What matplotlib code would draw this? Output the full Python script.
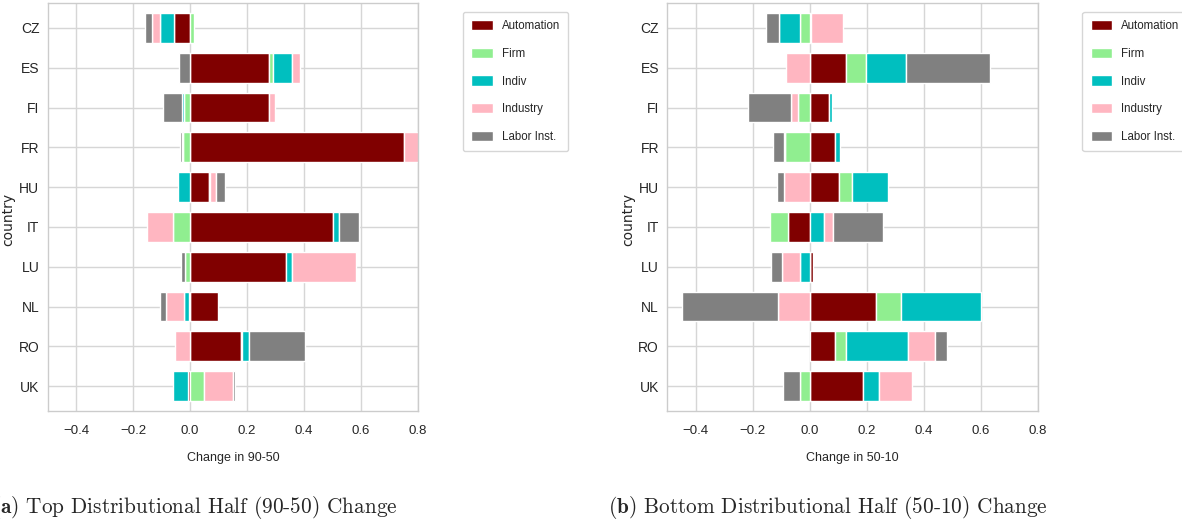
import numpy as np
import pandas as pd
import matplotlib
matplotlib.use("Agg")
import matplotlib.pyplot as plt
import seaborn as sns

countries = ["CZ", "ES", "FI", "FR", "HU", "IT", "LU", "NL", "RO", "UK"]
factors = ["Automation", "Firm", "Indiv", "Industry", "Labor Inst."]
colors = ["#800000", "#90EE90", "#00BFBF", "#FFB6C1", "#808080"]

# change in 90-50 (top half)
top_automation = [-0.057, 0.278, 0.277, 0.752, 0.066, 0.503, 0.338, 0.098, 0.178, -0.007]
top_firm = [0.012, 0.012, -0.020, -0.024, 0.004, -0.061, -0.019, -0.003, 0.005, 0.047]
top_indiv = [-0.049, 0.067, -0.007, -0.006, -0.042, 0.018, 0.018, -0.019, 0.024, -0.053]
top_industry = [-0.029, 0.029, 0.022, 0.060, 0.019, -0.090, 0.226, -0.062, -0.053, 0.105]
top_labor = [-0.025, -0.040, -0.070, -0.004, 0.033, 0.073, -0.014, -0.023, 0.195, 0.004]

# change in 50-10 (bottom half)
bot_automation = [0.004, 0.127, 0.069, 0.089, 0.101, -0.076, 0.010, 0.233, 0.087, 0.187]
bot_firm = [-0.035, 0.070, -0.042, -0.088, 0.048, -0.064, -0.001, 0.087, 0.041, -0.035]
bot_indiv = [-0.073, 0.140, 0.008, 0.016, 0.127, 0.049, -0.034, 0.280, 0.216, 0.056]
bot_industry = [0.112, -0.085, -0.023, -0.002, -0.089, 0.033, -0.064, -0.110, 0.096, 0.116]
bot_labor = [-0.047, 0.297, -0.151, -0.039, -0.027, 0.174, -0.036, -0.337, 0.043, -0.060]

sns.set_style("whitegrid")
plt.rcParams["font.family"] = ["Liberation Sans", "DejaVu Sans"]
plt.rcParams["mathtext.fontset"] = "cm"

fig = plt.figure(figsize=(11.82, 5.24), dpi=100)
ax1 = fig.add_axes([0.0404, 0.2156, 0.3133, 0.7786])
ax2 = fig.add_axes([0.5646, 0.2156, 0.3133, 0.7786])

top = pd.DataFrame(dict(zip(factors, [top_automation, top_firm, top_indiv,
                                      top_industry, top_labor])), index=countries)
bot = pd.DataFrame(dict(zip(factors, [bot_automation, bot_firm, bot_indiv,
                                      bot_industry, bot_labor])), index=countries)

for ax, df, xl in [(ax1, top, "Change in 90-50"), (ax2, bot, "Change in 50-10")]:
    df.plot.barh(stacked=True, ax=ax, color=colors, width=0.75,
                 edgecolor="white", linewidth=1)
    ax.set_xlim(-0.5, 0.8)
    ax.set_ylim(9.625, -0.625)
    ax.set_xticks([-0.4, -0.2, 0.0, 0.2, 0.4, 0.6, 0.8])
    ax.set_xlabel(xl, fontsize=9, labelpad=11)
    ax.set_ylabel("country", fontsize=10, family="DejaVu Sans")
    ax.yaxis.set_label_coords(-0.088, 0.47)
    ax.tick_params(axis="x", labelsize=9.5, length=0, pad=10)
    ax.tick_params(axis="y", labelsize=10, length=0, pad=6)
    ax.grid(True, color="#d6d6d6", linewidth=1)
    ax.set_axisbelow(True)
    for s in ax.spines.values():
        s.set_color("#cccccc")
        s.set_linewidth(1)
    leg = ax.legend(loc="upper left", bbox_to_anchor=(1.121, 0.978), fontsize=8.3,
                    frameon=True, borderpad=0.7, labelspacing=1.35,
                    handlelength=1.9, handleheight=1.0, handletextpad=0.75,
                    fancybox=True, borderaxespad=0)
    leg.get_frame().set_edgecolor("#cccccc")

fig.text(0.336, 0.021, r"$\mathbf{(a)}$ Top Distributional Half (90-50) Change",
         ha="right", va="baseline", fontsize=15.3, family="cmr10")
fig.text(0.8866, 0.021, r"$\mathbf{(b)}$ Bottom Distributional Half (50-10) Change",
         ha="right", va="baseline", fontsize=15.3, family="cmr10")

fig.savefig("out.png", dpi=100)
